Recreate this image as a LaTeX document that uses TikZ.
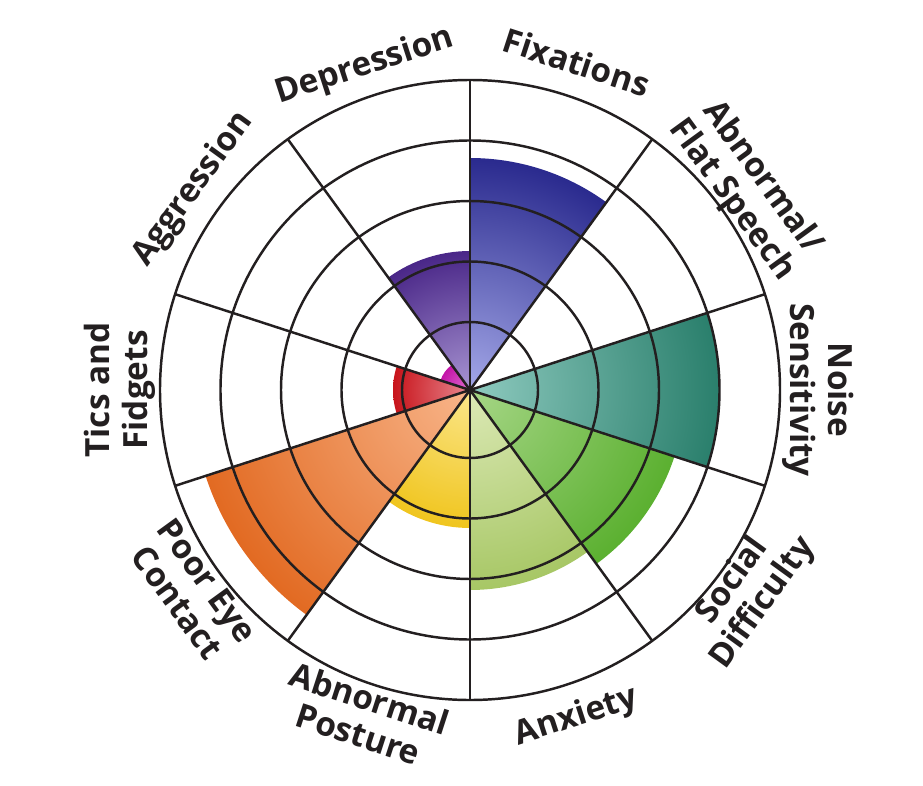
\documentclass[tikz,border=0pt]{standalone}
\usepackage{fontspec}
\setmainfont{Open Sans}
\usepackage{xcolor}
\usepackage{tikz}
\usetikzlibrary{positioning}

\definecolor{linegray}{HTML}{231F20}
\definecolor{fixdark}{HTML}{2A2A8E}
\definecolor{fixlight}{HTML}{A4A8E8}
\definecolor{noisedark}{HTML}{2A7F6C}
\definecolor{noiselight}{HTML}{8ECABF}
\definecolor{socialdark}{HTML}{5BB030}
\definecolor{sociallight}{HTML}{A6D686}
\definecolor{anxdark}{HTML}{A7C765}
\definecolor{anxlight}{HTML}{DCE9B6}
\definecolor{posturedark}{HTML}{F0C51E}
\definecolor{posturelight}{HTML}{FBE68A}
\definecolor{eyedark}{HTML}{E26A22}
\definecolor{eyelight}{HTML}{F8B58A}
\definecolor{ticsdark}{HTML}{C8141B}
\definecolor{ticslight}{HTML}{E88890}
\definecolor{aggrdark}{HTML}{C415A8}
\definecolor{aggrlight}{HTML}{E070D0}
\definecolor{depdark}{HTML}{4A2788}
\definecolor{deplight}{HTML}{A895D2}

% start angle, end angle, radius, inner colour, outer colour
\newcommand{\petal}[5]{%
  \begin{scope}
    \clip (0,0) -- (#1:#3) arc[start angle=#1, end angle=#2, radius=#3] -- cycle;
    \shade[inner color=#4, outer color=#5] (0,0) circle (#3);
  \end{scope}}

\begin{document}
\begin{tikzpicture}
      [x=0.75pt, y=0.75pt,
      ring/.style={draw=linegray, line width=1.85pt},
      spoke/.style={draw=linegray, line width=1.85pt},
      label text/.style={font=\fontsize{25}{28}\selectfont\bfseries, text=linegray, align=center, inner sep=0pt}
      ]
    \useasboundingbox (-470,-395) rectangle (453,390);
    \coordinate (c) at (0,0);

    % coloured segments
    \petal{54}{90}{232}{fixlight}{fixdark}
    \petal{-18}{18}{249.5}{noiselight}{noisedark}
    \petal{-54}{-18}{215}{sociallight}{socialdark}
    \petal{-90}{-54}{200}{anxlight}{anxdark}
    \petal{234}{270}{138}{posturelight}{posturedark}
    \petal{198}{234}{278}{eyelight}{eyedark}
    \petal{162}{198}{77}{ticslight}{ticsdark}
    \petal{126}{162}{31}{aggrlight}{aggrdark}
    \petal{90}{126}{139}{deplight}{depdark}

    % grid
    \foreach \r in {68,128.5,189,249.5,310}
      \draw[ring] (c) circle (\r);
    \foreach \a in {18,54,...,342}
      \draw[spoke] (c) -- (\a:310);

    % labels
    \node[label text, rotate=-18] (fix) at (72:345) {Fixations};
    \node[label text, rotate=-54] (speech) at (36:342) {Abnormal/\\Flat Speech};
    \node[label text, rotate=-90] (noise) at (0:348) {Noise\\Sensitivity};
    \node[label text, rotate=54] (social) at (-36:344) {Social\\Difficulty};
    \node[label text, rotate=18] (anx) at (-72:344) {Anxiety};
    \node[label text, rotate=-18] (posture) at (-108:343) {Abnormal\\Posture};
    \node[label text, rotate=-54] (eye) at (216:343) {Poor Eye\\Contact};
    \node[label text, rotate=90] (tics) at (180:350) {Tics and\\Fidgets};
    \node[label text, rotate=54] (aggr) at (144:342) {Aggression};
    \node[label text, rotate=18] (dep) at (108:340) {Depression};
\end{tikzpicture}
\end{document}
